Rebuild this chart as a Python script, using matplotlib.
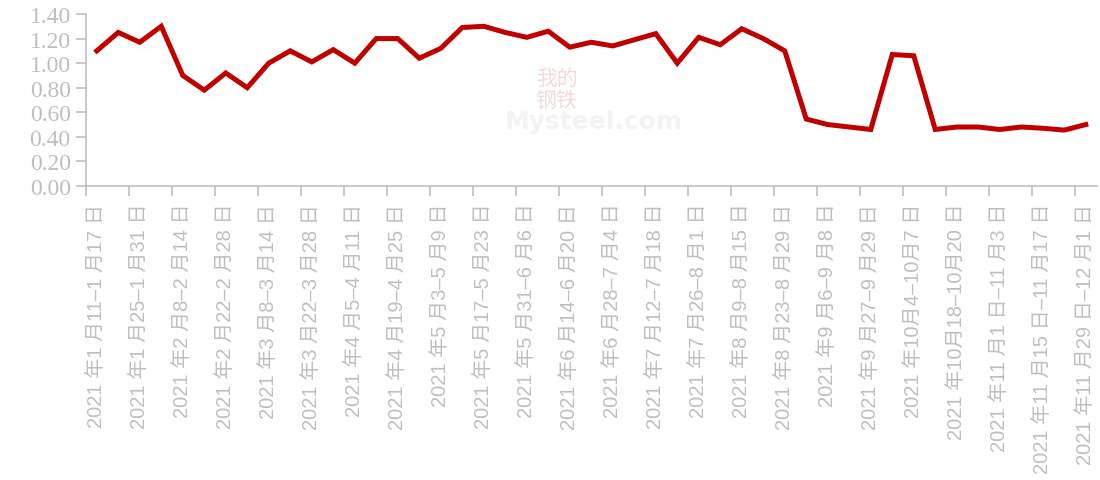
import matplotlib
matplotlib.use("Agg")
import matplotlib.pyplot as plt
from matplotlib.ticker import FixedLocator, NullFormatter

categories = [
    "2021 年1 月11–1 月17 日", "2021 年1 月18–1 月24 日", "2021 年1 月25–1 月31 日", "2021 年2 月1–2 月7 日",
    "2021 年2 月8–2 月14 日", "2021 年2 月15–2 月21 日", "2021 年2 月22–2 月28 日", "2021 年3 月1–3 月7 日",
    "2021 年3 月8–3 月14 日", "2021 年3 月15–3 月21 日", "2021 年3 月22–3 月28 日", "2021 年3 月29–4 月4 日",
    "2021 年4 月5–4 月11 日", "2021 年4 月12–4 月18 日", "2021 年4 月19–4 月25 日", "2021 年4 月26–5 月2 日",
    "2021 年5 月3–5 月9 日", "2021 年5 月10–5 月16 日", "2021 年5 月17–5 月23 日", "2021 年5 月24–5 月30 日",
    "2021 年5 月31–6 月6 日", "2021 年6 月7–6 月13 日", "2021 年6 月14–6 月20 日", "2021 年6 月21–6 月27 日",
    "2021 年6 月28–7 月4 日", "2021 年7 月5–7 月11 日", "2021 年7 月12–7 月18 日", "2021 年7 月19–7 月25 日",
    "2021 年7 月26–8 月1 日", "2021 年8 月2–8 月8 日", "2021 年8 月9–8 月15 日", "2021 年8 月16–8 月22 日",
    "2021 年8 月23–8 月29 日", "2021 年8 月30–9 月5 日", "2021 年9 月6–9 月8 日", "2021 年9 月13–9 月15 日",
    "2021 年9 月27–9 月29 日", "2021 年9 月29–9 月30 日", "2021 年10月4–10月7 日", "2021 年10月11–10月13 日",
    "2021 年10月18–10月20 日", "2021 年10月25–10月27 日", "2021 年11 月1 日–11 月3 日", "2021 年11 月8 日–11 月10 日",
    "2021 年11 月15 日–11 月17 日", "2021 年11 月22 日–11 月24 日", "2021 年11 月29 日–12 月1 日",
]

values = [
    1.10, 1.25, 1.17, 1.30, 0.90, 0.78, 0.92, 0.80, 1.00, 1.10,
    1.01, 1.11, 1.00, 1.20, 1.20, 1.04, 1.12, 1.29, 1.30, 1.25,
    1.21, 1.26, 1.13, 1.17, 1.14, 1.19, 1.24, 1.00, 1.21, 1.15,
    1.28, 1.20, 1.10, 0.545, 0.50, 0.48, 0.46, 1.07, 1.06, 0.46,
    0.48, 0.48, 0.46, 0.48, 0.47, 0.455, 0.50,
]

yticks = [0.00, 0.20, 0.40, 0.60, 0.80, 1.00, 1.20, 1.40]

gray = "#bfbfbf"
fig = plt.figure(figsize=(11, 4.81), dpi=100)
ax = fig.add_axes([86 / 1100, 1 - 187 / 481, (1096.5 - 86) / 1100, (187 - 15) / 481])

# watermark
fig.text(0.506, 1 - 90 / 481, "我的\n钢铁", fontsize=15, color="#f5dada", ha="center", va="center",
         family=["Noto Sans CJK SC", "DejaVu Sans"], zorder=0, linespacing=1.0)
fig.text(0.54, 1 - 122 / 481, "Mysteel.com", fontsize=18, color="#f3f3f3", ha="center", va="center",
         family="DejaVu Sans", weight="bold", zorder=0)

x = list(range(len(values)))
ax.plot(x, values, color="#c00000", lw=3.6, solid_joinstyle="miter", zorder=3)

ax.set_xlim(-0.5, len(values) - 0.5)
ax.set_ylim(0, 1.4)
ax.set_yticks(yticks)
ax.set_yticklabels([f"{v:.2f}" for v in yticks], family="Liberation Serif", fontsize=17, color=gray)

ax.xaxis.set_major_locator(FixedLocator([i - 0.5 for i in range(0, len(values) + 1, 2)]))
ax.xaxis.set_major_formatter(NullFormatter())
ax.xaxis.set_minor_locator(FixedLocator(x[::2]))
ax.set_xticklabels(categories[::2], minor=True, rotation=90, ha="center", va="top",
                   family=["Liberation Sans", "Noto Sans CJK SC"], fontsize=14.5, color=gray)
ax.tick_params(axis="x", which="minor", length=0, pad=12)
ax.tick_params(axis="x", which="major", length=7, width=1.2, color=gray)
ax.tick_params(axis="y", length=7, width=1.2, color=gray, pad=4)

for s in ["top", "right"]:
    ax.spines[s].set_visible(False)
for s in ["left", "bottom"]:
    ax.spines[s].set_color(gray)
    ax.spines[s].set_linewidth(1.2)

fig.savefig("out.png", dpi=100)
